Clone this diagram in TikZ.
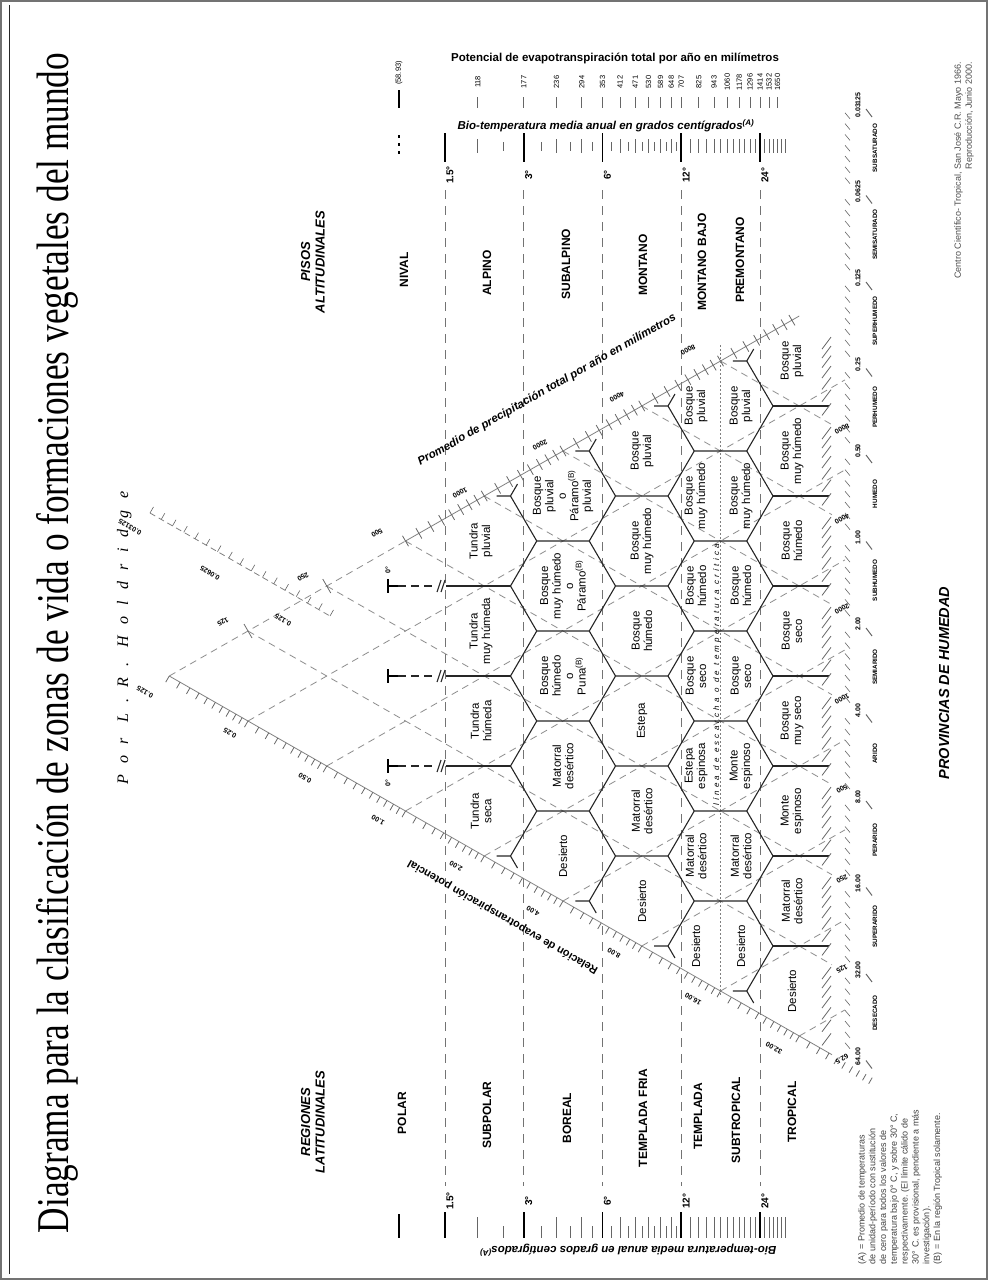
\documentclass[tikz,border=0pt]{standalone}
\usepackage{fontspec}
\setmainfont{Liberation Serif}
\setsansfont{Liberation Sans}
\newfontfamily\spacedserif[LetterSpace=70]{Liberation Serif}
\newfontfamily\spacedsans[LetterSpace=40]{Liberation Sans}
\usetikzlibrary{calc}

\begin{document}
\begin{tikzpicture}[
    x=1pt, y=-1pt,
    every node/.style={inner sep=0pt, outer sep=0pt},
    zone/.style={font=\sffamily\fontsize{11.5}{12.5}\selectfont, align=center, rotate=90},
    belt/.style={font=\sffamily\bfseries\fontsize{12}{13}\selectfont, rotate=90},
    heading/.style={font=\sffamily\bfseries\itshape\fontsize{13}{14.5}\selectfont, align=center, rotate=90},
    degree/.style={font=\sffamily\bfseries\fontsize{10}{10}\selectfont, rotate=90},
    petnum/.style={font=\sffamily\fontsize{7.5}{7.5}\selectfont, rotate=90},
    axisnum/.style={font=\sffamily\bfseries\fontsize{7}{7}\selectfont},
    province/.style={font=\sffamily\bfseries\fontsize{6.3}{6.5}\selectfont, rotate=90},
    hexline/.style={line width=1.1pt, black!85},
    guide/.style={black!45, line width=0.8pt, dash pattern=on 7pt off 5pt},
    templine/.style={black!55, line width=1pt, dash pattern=on 9pt off 7pt},
    tickline/.style={black!60, line width=0.8pt},
    bigtick/.style={black, line width=1.6pt},
]
\useasboundingbox (0,0) rectangle (988,1280);

% frame
\draw[black!55, line width=1.5pt] (1,1) rectangle (987,1279);
\draw[black!85, line width=1pt] (9,5) -- (9,1274);

% title
\node[rotate=90, anchor=base] (title) at (68,643)
  {\resizebox{1180pt}{32pt}{\fontsize{40}{40}\selectfont Diagrama para la clasificación de zonas de vida o formaciones vegetales del mundo}};
\node[rotate=90, anchor=base] (author) at (128,638)
  {\spacedserif\itshape\fontsize{16}{16}\selectfont Por L.R. Holdridge};

% potential evapotranspiration scale
\node[font=\sffamily\bfseries\fontsize{11.5}{12}\selectfont] (petTitle) at (615,58)
  {Potencial de evapotranspiración total por año en milímetros};
\draw[black, line width=1.2pt] (399,90) -- (399,108);
\node[petnum] (pet1) at (399,73) {(58.93)};
\foreach \t/\pet in {2/118,3/177,4/236,5/294,6/353,7/412,8/471,9/530,10/589,11/648,12/707,
                     14/825,16/943,18/1060,20/1178,22/1296,24/1414,26/1532,28/1650} {
  \pgfmathsetmacro\xt{445+113.612*ln(\t/1.5)}
  \draw[tickline] (\xt,97) -- (\xt,108);
  \node[petnum] (pet\t) at (\xt,82) {\pet};
}

% biotemperature scales, top and bottom
\node[font=\sffamily\bfseries\itshape\fontsize{11.5}{12}\selectfont] (bioTop) at (606,126)
  {Bio-temperatura media anual en grados centígrados\textsuperscript{(A)}};
\node[rotate=180, font=\sffamily\bfseries\itshape\fontsize{11.5}{12}\selectfont] (bioBottom) at (628,1250)
  {Bio-temperatura media anual en grados centígrados\textsuperscript{(A)}};
\foreach \t in {2,4,5,7,8,9,10,11,13,14,...,23,25,26,...,30} {
  \pgfmathsetmacro\xt{445+113.612*ln(\t/1.5)}
  \draw[tickline] (\xt,139) -- (\xt,153);
  \draw[tickline] (\xt,1217) -- (\xt,1238);
}
\foreach \t in {2.5,3.5,...,11.5} {
  \pgfmathsetmacro\xt{445+113.612*ln(\t/1.5)}
  \draw[tickline, line width=0.6pt] (\xt,142) -- (\xt,151);
  \draw[tickline, line width=0.6pt] (\xt,1226) -- (\xt,1238);
}
\draw[black, line width=1.3pt, dash pattern=on 3pt off 5pt] (399,135) -- (399,156);
\draw[black, line width=1.3pt] (399,1214) -- (399,1238);

% temperature belts
\foreach \xt/\lab in {445/1.5, 523.75/3, 602.5/6, 681.25/12, 760/24} {
  \draw[bigtick] (\xt,133) -- (\xt,162);
  \node[degree] (top\lab) at (\xt+5,175) {\lab°};
  \draw[templine] (\xt,190) -- (\xt,1186);
  \node[degree] (bot\lab) at (\xt+5,1201) {\lab°};
  \draw[bigtick] (\xt,1212) -- (\xt,1238);
}

% altitudinal belts and latitudinal regions
\node[heading] (pisos) at (313,262) {PISOS\\ALTITUDINALES};
\node[belt] (nival) at (404,270) {NIVAL};
\node[belt] (alpino) at (487,273) {ALPINO};
\node[belt] (subalpino) at (566,264) {SUBALPINO};
\node[belt] (montano) at (643,265) {MONTANO};
\node[belt] (montanoBajo) at (702,262) {MONTANO BAJO};
\node[belt] (premontano) at (740,260) {PREMONTANO};
\node[heading] (regiones) at (313,1122) {REGIONES\\LATITUDINALES};
\node[belt] (polar) at (402,1113) {POLAR};
\node[belt] (subpolar) at (487,1115) {SUBPOLAR};
\node[belt] (boreal) at (567,1118) {BOREAL};
\node[belt] (templadaFria) at (643,1118) {TEMPLADA FRIA};
\node[belt] (templada) at (698,1116) {TEMPLADA};
\node[belt] (subtropical) at (736,1120) {SUBTROPICAL};
\node[belt] (tropical) at (792,1112) {TROPICAL};

% guide lines of precipitation
\foreach \n in {1,...,7} {
  \pgfmathsetmacro\gx{169.25+78.75*\n}
  \pgfmathsetmacro\gy{676-45*\n}
  \pgfmathsetmacro\gl{(832-\gx)/78.75}
  \draw[guide] (\gx,\gy) -- ++(78.75*\gl,45*\gl);
}
% guide lines of potential evapotranspiration ratio
\foreach \m in {1,...,8} {
  \pgfmathsetmacro\gx{169.25+78.75*\m}
  \pgfmathsetmacro\gy{676+45*\m}
  \pgfmathsetmacro\gl{(845-\gx)/78.75}
  \draw[guide] (\gx,\gy) -- ++(78.75*\gl,-45*\gl);
}

% precipitation axis
\draw[guide] (169.25,676) -- (405.5,541);
\draw[black!50, line width=0.8pt] (405.5,541) -- (799.25,316);
\foreach \n in {3,...,7} {
  \foreach \j in {0,...,7} {
    \pgfmathsetmacro\t{\n+ln(1+\j/8)/ln(2)}
    \pgfmathsetmacro\px{169.25+78.75*\t}
    \pgfmathsetmacro\py{676-45*\t}
    \draw[tickline] (\px-3,\py-5.2) -- (\px+3,\py+5.2);
  }
}
\foreach \n in {1,2} {
  \pgfmathsetmacro\px{169.25+78.75*\n}
  \pgfmathsetmacro\py{676-45*\n}
  \draw[tickline] (\px-4,\py-7) -- (\px+4,\py+7);
}
\node[rotate=29.7, font=\sffamily\bfseries\itshape\fontsize{11.5}{12}\selectfont] (precTitle) at (547,390)
  {Promedio de precipitación total por año en milímetros};
\foreach \p/\lx/\ly in {125/223/622, 250/303/577, 500/377/533, 1000/460/493,
                        2000/540/445, 4000/617/397, 8000/688/350} {
  \node[axisnum, rotate=-150] (precTop\p) at (\lx,\ly) {\p};
}

% ratio axis
\draw[black!50, line width=0.8pt] (169.25,676) -- (832,1054.7);
\foreach \m in {0,...,8} {
  \foreach \j in {0,...,9} {
    \pgfmathsetmacro\t{\m+ln(1+\j/10)/ln(2)}
    \pgfmathsetmacro\px{169.25+78.75*\t}
    \pgfmathsetmacro\py{676+45*\t}
    \draw[tickline] (\px,\py) -- (\px-3.5,\py+6.1);
  }
}
\node[rotate=150, font=\sffamily\bfseries\fontsize{11}{12}\selectfont] (ratioTitle) at (503,917)
  {Relación de evapotranspiración potencial};
\foreach \r/\lx/\ly in {0.125/145/692, 0.25/230/733, 0.50/305/778, 1.00/378/820, 2.00/456/866,
                        4.00/533/911, 8.00/614/953, 16.00/693/999, 32.00/774/1048} {
  \node[axisnum, rotate=150] (ratio\r) at (\lx,\ly) {\r};
}
% polar extension of the ratio axis
\draw[black!50, line width=0.8pt, dash pattern=on 6pt off 4pt] (150,513) -- (330,616);
\foreach \j in {0,...,16} {
  \pgfmathsetmacro\px{150+180*\j/16}
  \pgfmathsetmacro\py{513+103*\j/16}
  \draw[tickline, line width=0.6pt] (\px,\py) -- (\px+3.5,\py-6.1);
}
\foreach \r/\lx/\ly in {0.03125/130/527, 0.0625/210/573, 0.125/283/620} {
  \node[axisnum, rotate=150] (ratioPolar\r) at (\lx,\ly) {\r};
}

% frost line
\draw[black!50, line width=0.8pt, dash pattern=on 1.5pt off 2.5pt] (720.5,345) -- (720.5,995);
\node[rotate=90, font=\spacedsans\itshape\fontsize{8}{8}\selectfont] (frost) at (717,675)
  {línea de escarcha o de temperatura crítica};

% hexagons, boreal to subtropical rows
\foreach \r/\n in {0/4, 1/5, 2/6} {
  \pgfmathsetmacro\cx{563+78.75*\r}
  \foreach \k in {0,...,\n} {
    \pgfmathsetmacro\cy{496-45*\r+90*\k}
    \ifnum\k>0
      \draw[hexline] (\cx-52.5,\cy) -- (\cx-26.25,\cy-45) -- (\cx+26.25,\cy-45);
    \fi
    \ifnum\k<\n
      \draw[hexline] (\cx-52.5,\cy) -- (\cx-26.25,\cy+45);
    \fi
    \ifnum\r=2
      \draw[hexline] (\cx+26.25,\cy-45) -- (\cx+52.5,\cy) -- (\cx+26.25,\cy+45);
    \fi
  }
}
% open ends of the hexagon net
\foreach \tx/\ty in {510.5/496, 589.25/451, 668/406, 746.75/361}
  \draw[hexline] (\tx-14,\ty) -- (\tx,\ty) -- ++(7,-12);
\foreach \tx/\ty in {510.5/856, 589.25/901, 668/946, 746.75/991}
  \draw[hexline] (\tx-14,\ty) -- (\tx,\ty) -- ++(7,12);
% tropical row
\foreach \k in {0,...,6}
  \draw[hexline] (773,406+90*\k) -- (829,406+90*\k);
% subpolar row and polar marks
\foreach \y in {586,676,766} {
  \draw[hexline] (446,\y) -- (510.5,\y);
  \draw[hexline] (437,\y+6) -- (441,\y-6) (441,\y+6) -- (445,\y-6);
  \draw[black!85, line width=1.1pt, dash pattern=on 8pt off 5pt] (398,\y) -- (436,\y);
  \draw[black, line width=1.3pt] (388,\y-7) -- (388,\y+7) (388,\y) -- (398,\y);
}
\node[degree, font=\sffamily\bfseries\fontsize{7}{7}\selectfont] (zeroA) at (388,570) {0°};
\node[degree, font=\sffamily\bfseries\fontsize{7}{7}\selectfont] (zeroB) at (388,783) {0°};

% life zones
\foreach \y/\txt in {541/{Tundra\\pluvial}, 631/{Tundra\\muy húmeda}, 721/{Tundra\\húmeda}, 811/{Tundra\\seca}}
  \node[zone] (subpolar\y) at (481,\y) {\txt};
\foreach \y/\txt in {496/{Bosque\\pluvial\\o\\Páramo\textsuperscript{(B)}\\pluvial},
                     586/{Bosque\\muy húmedo\\o\\Páramo\textsuperscript{(B)}},
                     676/{Bosque\\húmedo\\o\\Puna\textsuperscript{(B)}},
                     766/{Matorral\\desértico}, 856/{Desierto}}
  \node[zone] (boreal\y) at (563,\y) {\txt};
\foreach \y/\txt in {451/{Bosque\\pluvial}, 541/{Bosque\\muy húmedo}, 631/{Bosque\\húmedo},
                     721/{Estepa}, 811/{Matorral\\desértico}, 901/{Desierto}}
  \node[zone] (cool\y) at (642,\y) {\txt};
\foreach \y/\txt/\tyt in {406/{Bosque\\pluvial}/{Bosque\\pluvial},
                          496/{Bosque\\muy húmedo}/{Bosque\\muy húmedo},
                          586/{Bosque\\húmedo}/{Bosque\\húmedo},
                          676/{Bosque\\seco}/{Bosque\\seco},
                          766/{Estepa\\espinosa}/{Monte\\espinoso},
                          856/{Matorral\\desértico}/{Matorral\\desértico},
                          946/{Desierto}/{Desierto}} {
  \node[zone] (warm\y) at (696,\y) {\txt};
  \node[zone] (subtrop\y) at (741,\y) {\tyt};
}
\foreach \y/\txt in {361/{Bosque\\pluvial}, 451/{Bosque\\muy húmedo}, 541/{Bosque\\húmedo},
                     631/{Bosque\\seco}, 721/{Bosque\\muy seco}, 811/{Monte\\espinoso},
                     901/{Matorral\\desértico}, 991/{Desierto}}
  \node[zone] (trop\y) at (792,\y) {\txt};

% precipitation values at the lower end
\foreach \n/\p in {0/62.5,1/125,2/250,3/500,4/1000,5/2000,6/4000,7/8000} {
  \pgfmathsetmacro\py{1059-90*\n}
  \node[axisnum, rotate=-150] (precBot\n) at (842,\py) {\p};
  \foreach \j in {1,...,7} {
    \pgfmathsetmacro\qy{1054.7-90*\n-90*ln(1+\j/8)/ln(2)}
    \draw[tickline] (822,\qy+6) -- (831,\qy-6);
  }
}

% humidity provinces
\foreach \i/\v in {0/0.03125,1/0.0625,2/0.125,3/0.25,4/0.50,5/1.00,6/2.00,7/4.00,8/8.00,9/16.00,10/32.00,11/64.00} {
  \pgfmathsetmacro\hy{105+86.5*\i}
  \node[axisnum, rotate=90] (hum\i) at (858,\hy) {\v};
  \draw[tickline, line width=1pt] (866,\hy+4) -- (872,\hy+12);
}
\foreach \i in {0,...,10} {
  \foreach \j in {1,...,7} {
    \pgfmathsetmacro\hy{105+86.5*\i+86.5*\j/8}
    \draw[tickline, line width=0.6pt] (845,\hy-3) -- (850,\hy+3);
  }
}
\foreach \i/\name in {0/SUBSATURADO,1/SEMISATURADO,2/SUPERHUMEDO,3/PERHUMEDO,4/HUMEDO,5/SUBHUMEDO,
                      6/SEMIARIDO,7/ARIDO,8/PERARIDO,9/SUPERARIDO,10/DESECADO} {
  \pgfmathsetmacro\hy{148+86.5*\i}
  \node[province] (prov\i) at (875,\hy) {\name};
}
\node[rotate=90, font=\sffamily\bfseries\itshape\fontsize{14.5}{15}\selectfont] (provTitle) at (944,683)
  {PROVINCIAS DE HUMEDAD};

% notes
\node[rotate=90, anchor=east, align=right, text=black!70, font=\sffamily\fontsize{9}{11}\selectfont] (credit) at (964,62)
  {Centro Científico- Tropical, San José C.R. Mayo 1966.\\Reproducción, Junio 2000.};
\node[rotate=90, anchor=west, align=left, text=black!75, font=\sffamily\fontsize{9}{10.8}\selectfont] (notes) at (900,1264)
  {(A) = Promedio de temperaturas\\de unidad-período con sustitución\\de cero para todos los valores de\\temperatura bajo 0° C, y sobre 30° C,\\respectivamente. (El límite cálido de\\30° C. es provisional, pendiente a más\\investigación).\\(B) = En la región Tropical solamente.};
\end{tikzpicture}
\end{document}
